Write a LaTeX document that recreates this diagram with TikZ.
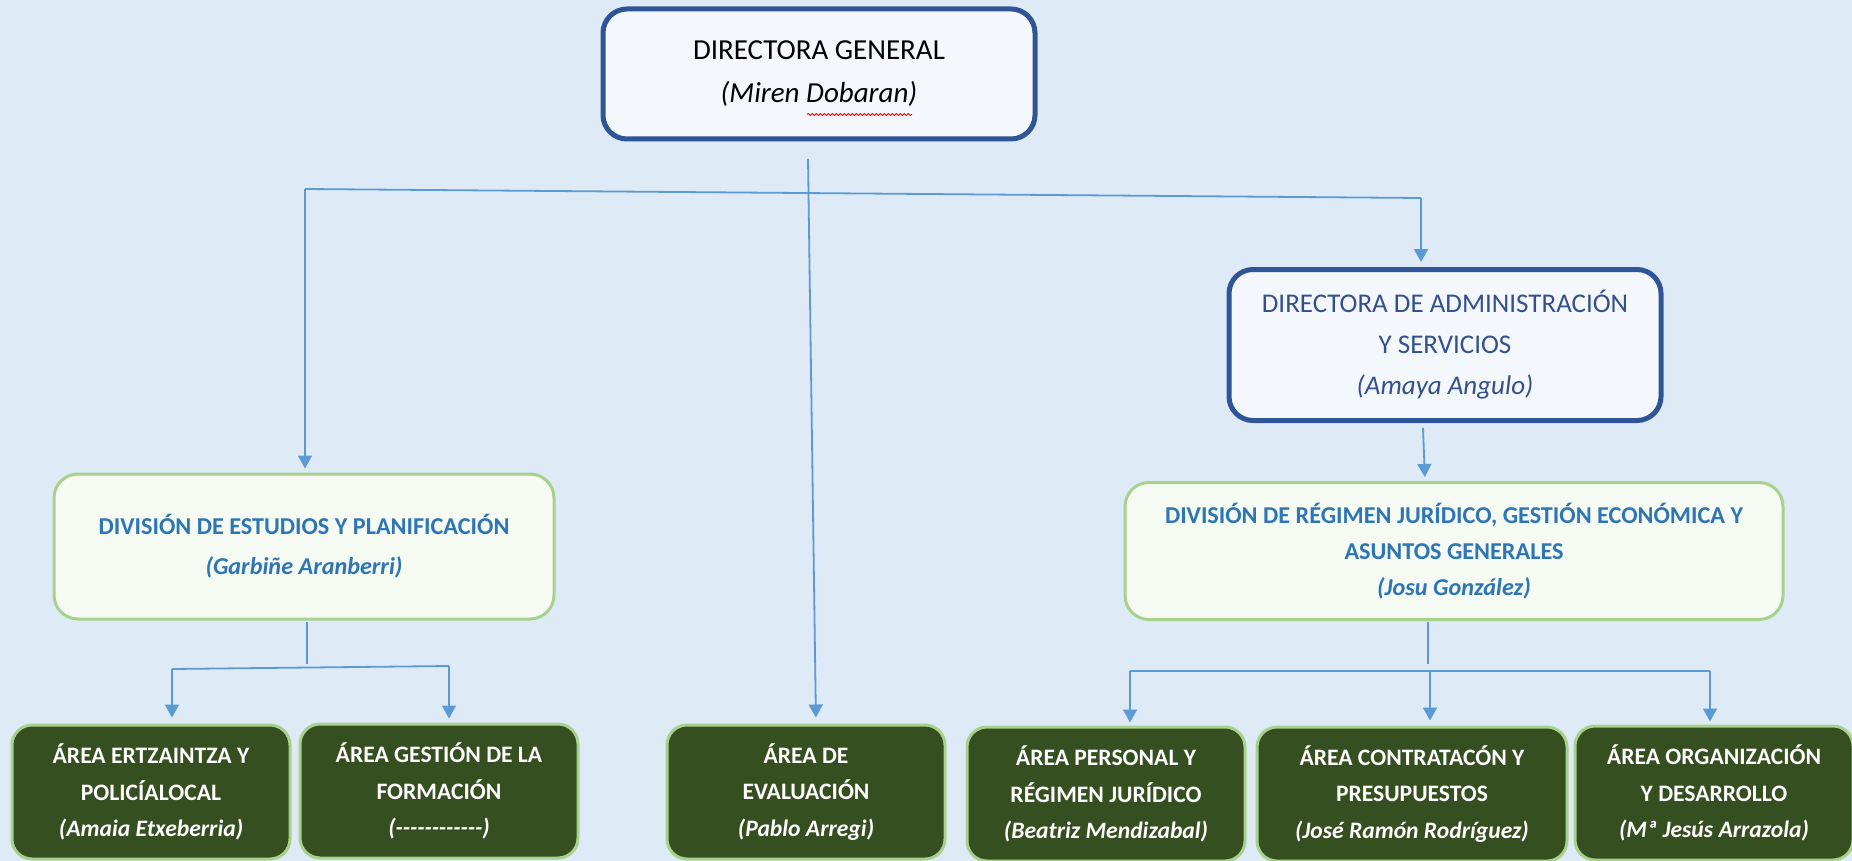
\documentclass[tikz,border=0pt]{standalone}
\usepackage{fontspec}
\setmainfont{Carlito}
\usetikzlibrary{arrows.meta,decorations.pathmorphing}
\definecolor{bg}{HTML}{DEEAF6}
\definecolor{topfill}{HTML}{F4F7FC}
\definecolor{topline}{HTML}{2F5597}
\definecolor{divfill}{HTML}{F5FAF2}
\definecolor{divline}{HTML}{A9D18E}
\definecolor{areafill}{HTML}{364F21}
\definecolor{conn}{HTML}{5B9BD5}
\definecolor{admtext}{HTML}{33508C}
\definecolor{divtext}{HTML}{2E75B6}
\tikzset{
  topbox/.style={draw=topline, line width=5pt, fill=topfill, rounded corners=24pt, align=center, inner sep=0pt},
  divbox/.style={draw=divline, line width=3pt, fill=divfill, rounded corners=24pt, align=center, inner sep=0pt, text=divtext, font=\bfseries\fontsize{24.2}{36}\selectfont},
  areabox/.style={draw=divline, line width=3pt, fill=areafill, rounded corners=20pt, align=center, inner sep=0pt, text=white, font=\bfseries\fontsize{23.6}{36.5}\selectfont, minimum height=134pt},
  link/.style={draw=conn, line width=1.8pt},
  arr/.style={link, -{Triangle[width=14pt,length=13pt]}},
}
\begin{document}
\begin{tikzpicture}[x=1pt,y=-1pt]
\useasboundingbox (0,0) rectangle (1852,861);
\clip (0,0) rectangle (1852,861);
\fill[bg] (0,0) rectangle (1852,861);

% top level
\node[topbox, minimum width=432pt, minimum height=130pt, font=\fontsize{29}{43}\selectfont] (dg) at (819,74)
  {DIRECTORA GENERAL\\\itshape (Miren Dobaran)};
\draw[red, line width=0.8pt, decorate, decoration={snake, amplitude=1.1pt, segment length=4pt}] (807,114.5) -- (912,114.5);

\node[topbox, minimum width=432pt, minimum height=151pt, text=admtext, font=\fontsize{27}{41}\selectfont] (adm) at (1445,345)
  {DIRECTORA DE ADMINISTRACIÓN\\Y SERVICIOS\\\itshape (Amaya Angulo)};

% divisions
\node[divbox, minimum width=500pt, minimum height=145pt, font=\bfseries\fontsize{24.2}{40}\selectfont] (ldiv) at (304,546.5)
  {DIVISIÓN DE ESTUDIOS Y PLANIFICACIÓN\\\itshape (Garbiñe Aranberri)};
\node[divbox, minimum width=658pt, minimum height=137pt] (rdiv) at (1454,551)
  {DIVISIÓN DE RÉGIMEN JURÍDICO, GESTIÓN ECONÓMICA Y\\ASUNTOS GENERALES\\\itshape (Josu González)};

% areas
\node[areabox, minimum width=278pt] (a1) at (151,792) {ÁREA ERTZAINTZA Y\\POLICÍALOCAL\\\itshape (Amaia Etxeberria)};
\node[areabox, minimum width=278pt] (a2) at (439,791) {ÁREA GESTIÓN DE LA\\FORMACIÓN\\\itshape (-{}-{}-{}-{}-{}-{}-{}-{}-{}-{}-{}-)};
\node[areabox, minimum width=278pt] (a3) at (806,792) {ÁREA DE\\EVALUACIÓN\\\itshape (Pablo Arregi)};
\node[areabox, minimum width=278pt] (a4) at (1106,794) {ÁREA PERSONAL Y\\RÉGIMEN JURÍDICO\\\itshape (Beatriz Mendizabal)};
\node[areabox, minimum width=310pt] (a5) at (1412,794) {ÁREA CONTRATACÓN Y\\PRESUPUESTOS\\\itshape (José Ramón Rodríguez)};
\node[areabox, minimum width=278pt] (a6) at (1714,793) {ÁREA ORGANIZACIÓN\\Y DESARROLLO\\\itshape (Mª Jesús Arrazola)};

% junction coordinates
\coordinate (t0) at (808,159);
\coordinate (t1) at (816,0);
\coordinate (h1) at (305,189);
\coordinate (h2) at (1421,198);
\coordinate (s0) at (1423,428);
\coordinate (s1) at (1425,0);
\coordinate (l0) at (307,622);
\coordinate (l1) at (307,664);
\coordinate (lh1) at (172,669);
\coordinate (lh2) at (449,666);
\coordinate (r0) at (1428,622);
\coordinate (r1) at (1428,664);
\coordinate (rh1) at (1130,671);
\coordinate (rh2) at (1710,671);
\coordinate (rm) at (1430,671);

% connectors
\draw[arr, shorten >=6pt] (t0) -- (t1 |- a3.north);
\draw[link] (h1) -- (h2);
\draw[arr, shorten >=4pt] (h1) -- (h1 |- ldiv.north);
\draw[arr, shorten >=5pt] (h2) -- (h2 |- adm.north);
\draw[arr, shorten >=4pt] (s0) -- (s1 |- rdiv.north);

\draw[link] (l0) -- (l1);
\draw[link] (lh1) -- (lh2);
\draw[arr, shorten >=6pt] (lh1) -- (lh1 |- a1.north);
\draw[arr, shorten >=4pt] (lh2) -- (lh2 |- a2.north);

\draw[link] (r0) -- (r1);
\draw[link] (rh1) -- (rh2);
\draw[arr, shorten >=3pt] (rh1) -- (rh1 |- a4.north);
\draw[arr, shorten >=5pt] (rm) -- (rm |- a5.north);
\draw[arr, shorten >=3pt] (rh2) -- (rh2 |- a6.north);
\end{tikzpicture}
\end{document}
